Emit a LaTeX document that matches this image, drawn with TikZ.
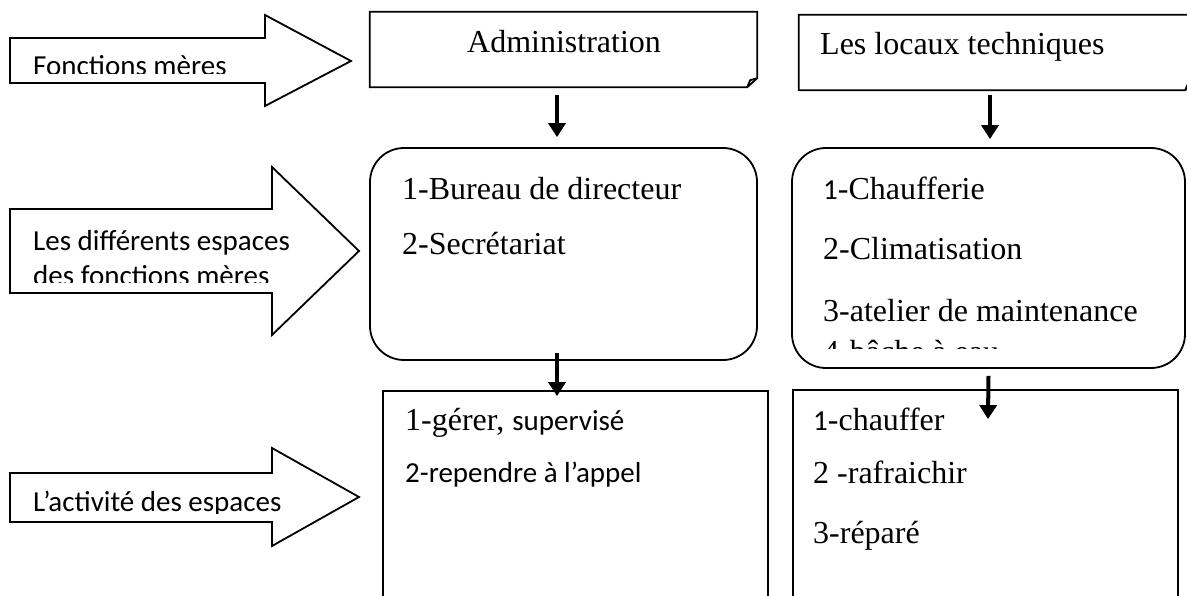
\documentclass[tikz,border=0pt]{standalone}
\usepackage{fontspec}
\setmainfont{Liberation Serif}
\newfontfamily\calib{Carlito}
\usetikzlibrary{arrows.meta,positioning,calc}
\tikzset{
	boxline/.style={line width=1.8pt, line join=miter},
	foldbox/.style={inner sep=0pt, draw=none},
	sqbox/.style={draw, inner sep=0pt, line width=1.8pt},
	rndbox/.style={draw, inner sep=0pt, line width=1.8pt, rounded corners=34pt},
	bigarr/.style={draw, line width=1.8pt, line join=miter, fill=white},
	darr/.style={-{Triangle[length=14pt,width=17pt]}, line width=4pt},
	ttext/.style={anchor=base west, inner sep=0pt, font=\fontsize{32}{38}\selectfont},
	ctext/.style={anchor=base west, inner sep=0pt, font=\calib\fontsize{29}{35}\selectfont},
}
\newcommand{\calbr}[1]{{\calib\fontsize{29}{35}\selectfont #1}}

\begin{document}
\begin{tikzpicture}[x=1pt, y=-1pt]
	\clip (0,0) rectangle (1187,596);
	\fill[white] (0,0) rectangle (1187,596);
	% side arrows
	\draw[bigarr] (10,38) -- (265,38) -- (265,15) -- (351,61) -- (265,106) -- (265,83) -- (10,83) -- cycle;
	\draw[bigarr] (10,209) -- (272,209) -- (272,167) -- (359,251) -- (272,335) -- (272,293) -- (10,293) -- cycle;
	\draw[bigarr] (10,473) -- (272,473) -- (272,448) -- (359,497) -- (272,546) -- (272,522) -- (10,522) -- cycle;
	\begin{scope}
		\clip (0,0) rectangle (400,74);
		\node[ctext] (fm) at (33,76) {Fonctions mères};
	\end{scope}
	\begin{scope}
		\clip (0,150) rectangle (400,283);
		\node[ctext] (esp1) at (33,251) {Les différents espaces};
		\node[ctext] (esp2) at (33,286) {des fonctions mères};
	\end{scope}
	\begin{scope}
		\clip (0,400) rectangle (400,513);
		\node[ctext] (act) at (33,511) {L’activité des espaces};
	\end{scope}
	% top boxes
	\node[foldbox, minimum width=387pt, minimum height=75pt] (admin) at (563.5,49.5) {};
	\node[foldbox, minimum width=396pt, minimum height=75pt] (locaux) at (997,52.5) {};
	\foreach \b in {admin,locaux}{
		\draw[boxline] (\b.north west) -- (\b.north east) -- ([yshift=9pt]\b.south east)
			-- ([xshift=-10pt]\b.south east) -- (\b.south west) -- cycle;
		\draw[boxline] ([yshift=9pt]\b.south east) -- ([xshift=-7pt,yshift=7pt]\b.south east)
			-- ([xshift=-10pt]\b.south east);
	}
	\node[ttext] (admtxt) at (467,53) {Administration};
	\node[ttext] (loctxt) at (820,55) {Les locaux techniques};
	% spaces
	\node[rndbox, minimum width=387pt, minimum height=212pt] (espA) at (563.5,254) {};
	\node[rndbox, minimum width=393pt, minimum height=220pt] (espB) at (988.5,258) {};
	\node[ttext] (a1) at (402,200) {1-Bureau de directeur};
	\node[ttext] (a2) at (402,255) {2-Secrétariat};
	\node[ttext] (b1) at (823,200) {\calbr{1}-Chaufferie};
	\node[ttext] (b2) at (823,260) {2-Climatisation};
	\node[ttext] (b3) at (823,322) {3-atelier de maintenance};
	\begin{scope}
		\clip (792,330) rectangle (1187,348);
		\node[ttext] (b4) at (823,362) {4-bâche à eau};
	\end{scope}
	% activities
	\node[sqbox, minimum width=385pt, minimum height=259pt] (espC) at (575.5,520.5) {};
	\node[sqbox, minimum width=385pt, minimum height=260pt] (espD) at (985.5,520) {};
	\node[ttext] (c1) at (405,430) {1-gérer, \calbr{supervisé}};
	\node[ctext] (c2) at (405,482) {2-rependre à l’appel};
	\node[ttext] (d1) at (813,430) {\calbr{1}-chauffer};
	\node[ttext] (d2) at (813,483) {2 -rafraichir};
	\node[ttext] (d3) at (813,543) {3-réparé};
	% links
	\draw[darr] ([xshift=-6.5pt,yshift=-8pt]admin.south) -- ([xshift=-6.5pt,yshift=10pt]espA.north);
	\draw[darr] ([xshift=-7pt,yshift=-5pt]locaux.south) -- ([xshift=1.5pt,yshift=8pt]espB.north);
	\draw[darr] ([xshift=-6.5pt,yshift=8pt]espA.south) -- ([xshift=-18.5pt,yshift=-6pt]espC.north);
	\draw[darr] ([yshift=-7pt]espB.south) -- ([xshift=2.5pt,yshift=-30pt]espD.north);
\end{tikzpicture}
\end{document}
